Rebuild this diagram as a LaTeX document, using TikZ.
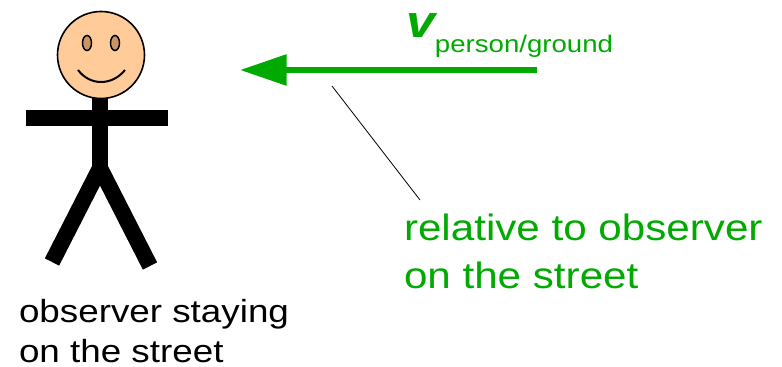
\documentclass[tikz,border=0pt]{standalone}
\usepackage{fontspec}
\setmainfont{Liberation Sans}[FakeStretch=1.15]
\usetikzlibrary{arrows.meta}
\definecolor{skin}{RGB}{255,204,153}
\definecolor{eyebrown}{RGB}{200,150,100}
\definecolor{velgreen}{RGB}{0,170,0}
\begin{document}
\begin{tikzpicture}[x=0.75pt,y=-0.75pt,
  limb/.style={line width=12pt,black},
  velarrow/.style={line width=4.5pt,velgreen,-{Triangle[length=35pt,width=22.5pt]}},
  every node/.style={inner sep=0pt,outer sep=0pt}]
  \useasboundingbox (0,0) rectangle (782,367);
  % stick figure
  \draw[limb] (100,95) -- (100,168);
  \draw[limb] (26,118) -- (168,118);
  \draw[limb] (100,168) -- (52,262);
  \draw[limb] (100,168) -- (150,266);
  \draw[line width=1.2pt,fill=skin] (101,55) circle[radius=43.5];
  \draw[line width=1.1pt,fill=eyebrown] (87,43) ellipse[x radius=4.5,y radius=7.5];
  \draw[line width=1.1pt,fill=eyebrown] (115,43) ellipse[x radius=4.5,y radius=7.5];
  \draw[line width=1.5pt] (78,70) .. controls (90,86) and (112,86) .. (125,70);
  \node[anchor=base west,align=left,font=\fontsize{24}{30}\selectfont] (observer) at (19,362) {observer staying\\on the street};
  % velocity
  \coordinate (velstart) at (537,70);
  \coordinate (veltip) at (240,70);
  \draw[velarrow] (velstart) -- (veltip);
  \node[anchor=base west,text=velgreen] (vlabel) at (406,38) {{\fontsize{34}{34}\selectfont\bfseries\itshape v}\raisebox{-11.25pt}{\fontsize{18}{18}\selectfont person/ground}};
  \node[anchor=base west,align=left,text=velgreen,font=\fontsize{27.5}{36}\selectfont] (frame) at (404,288) {relative to observer\\on the street};
  \coordinate (pointer) at (332,86);
  \coordinate (pointerend) at (420,200);
  \draw[line width=0.6pt] (pointer) -- (pointerend);
\end{tikzpicture}
\end{document}
